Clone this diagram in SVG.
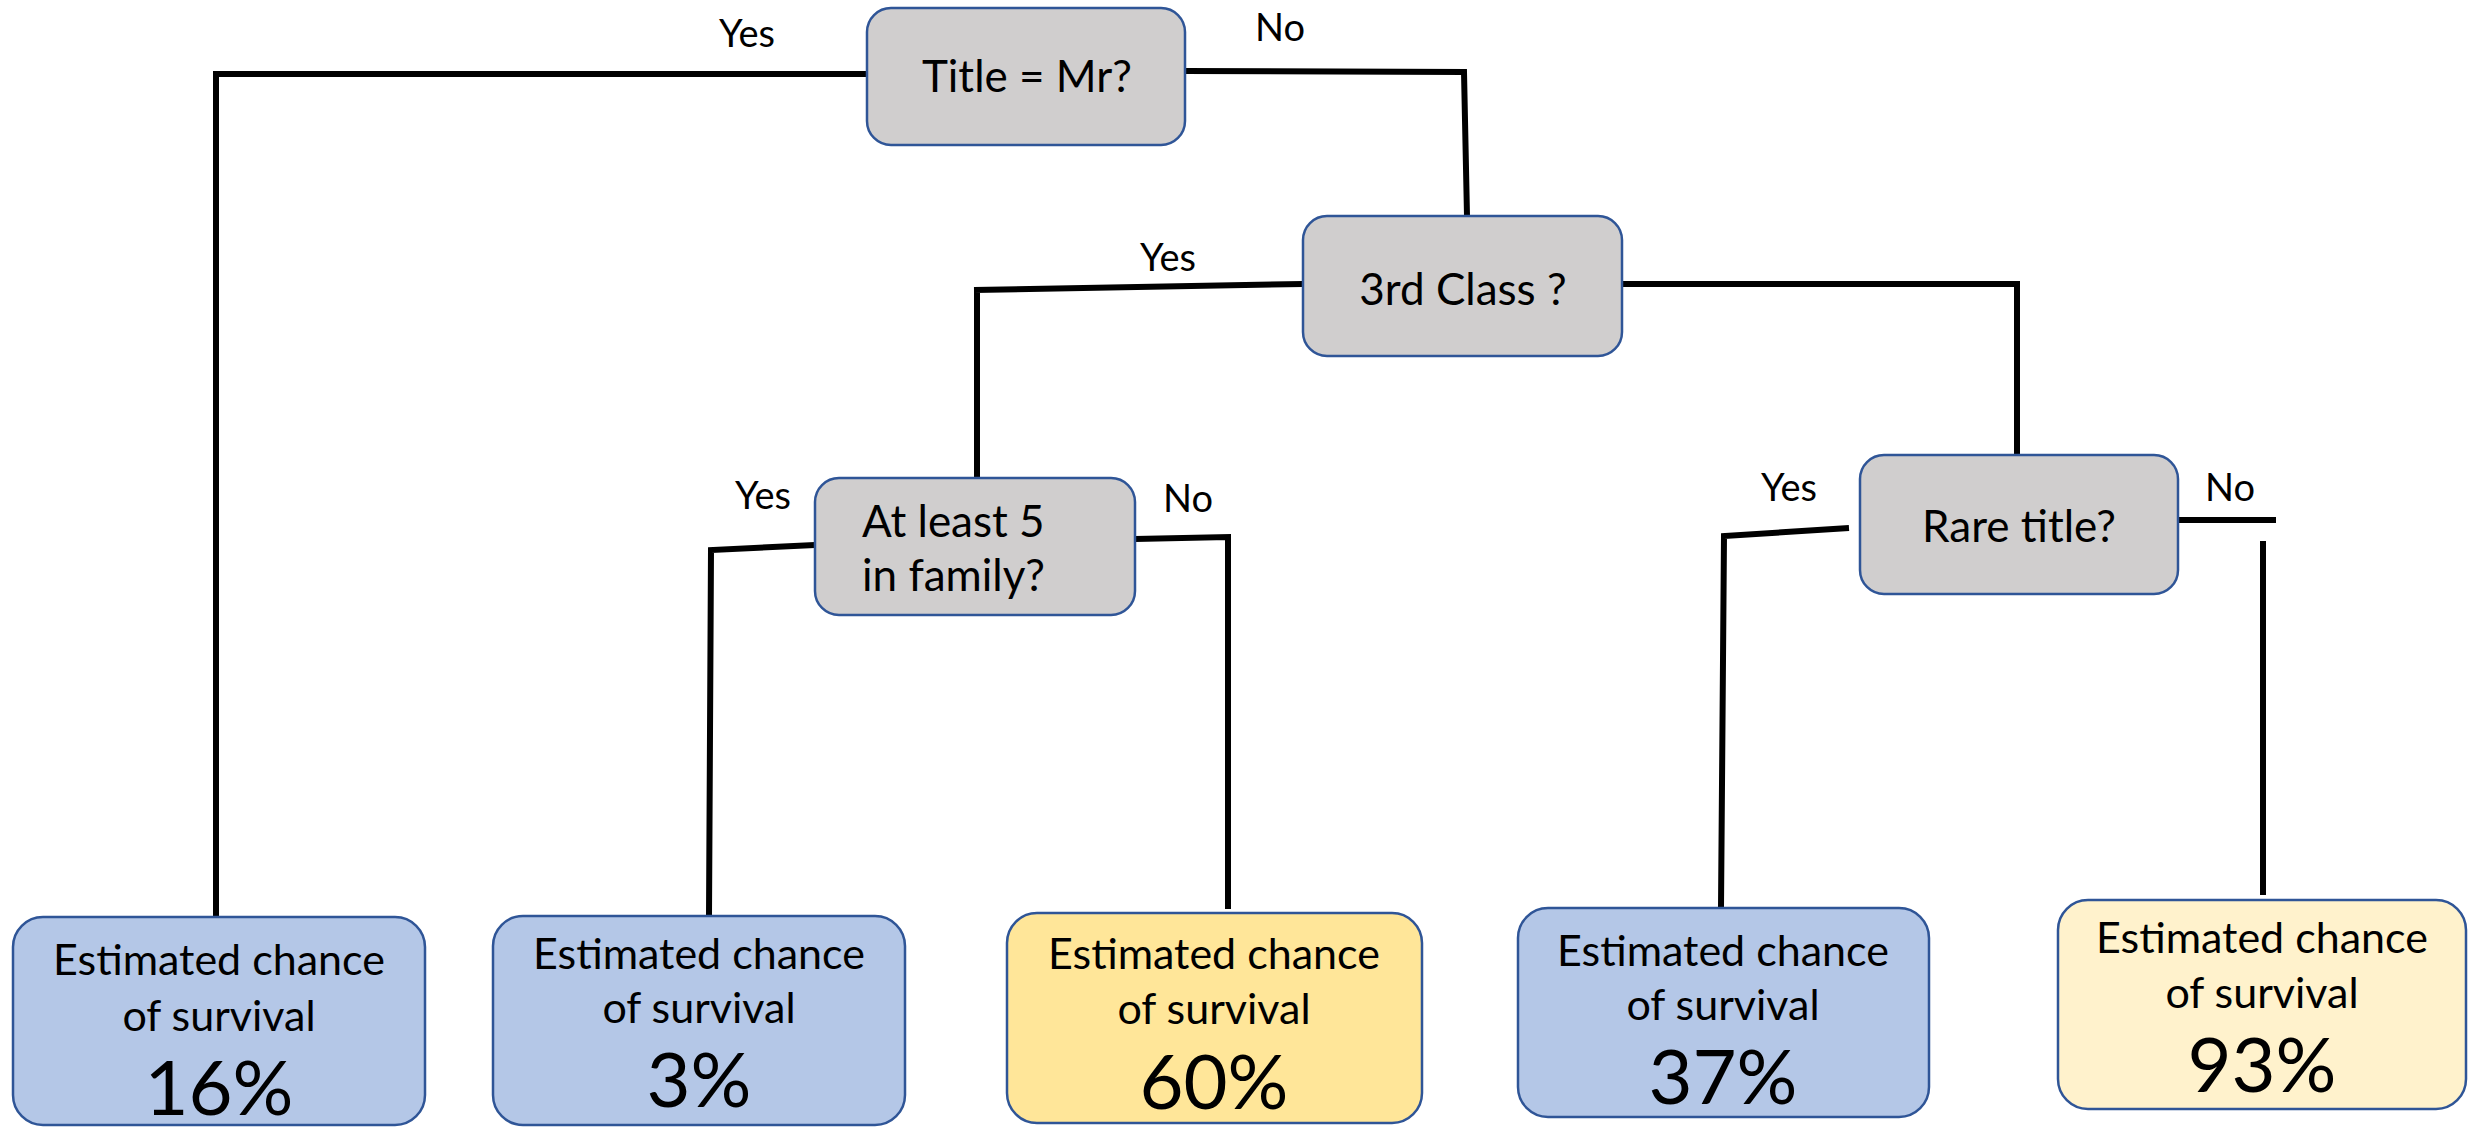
<svg xmlns="http://www.w3.org/2000/svg" width="2471" height="1127" viewBox="0 0 2471 1127">
<style>
.q{fill:#D0CECE;stroke:#2F5597;stroke-width:2.5}
.lb{fill:#B4C7E7;stroke:#2F5597;stroke-width:2.5}
.ly{fill:#FFE699;stroke:#2F5597;stroke-width:2.5}
.lp{fill:#FFF2CC;stroke:#2F5597;stroke-width:2.5}
.c{fill:none;stroke:#000;stroke-width:6;stroke-linejoin:miter}
text{font-family:Lato,"Liberation Sans",sans-serif;fill:#000}
.t{font-size:43px;text-anchor:middle}
.tl{font-size:44px}
.e{font-size:38px;text-anchor:middle}
.p{font-size:76px;text-anchor:middle}
</style>
<rect width="2471" height="1127" fill="#fff"/>
<g id="connectors">
<polyline class="c" points="867,74 216,74 216,917"/>
<polyline class="c" points="1185,71 1464,72 1467,216"/>
<polyline class="c" points="1303,284 974,290 977,290 977,478"/>
<polyline class="c" points="1622,284 2017,284 2017,455"/>
<polyline class="c" points="815,545 711,550 709,916"/>
<polyline class="c" points="1135,539 1228,537 1228,909"/>
<polyline class="c" points="1849,528 1724,536 1721,908"/>
<polyline class="c" points="2178,520 2276,520"/>
<polyline class="c" points="2263,541 2263,895"/>
</g>
<g id="edge-labels">
<text class="e" x="747" y="47">Yes</text>
<text class="e" x="1280" y="41">No</text>
<text class="e" x="1168" y="271">Yes</text>
<text class="e" x="763" y="509">Yes</text>
<text class="e" x="1188" y="512">No</text>
<text class="e" x="1789" y="501">Yes</text>
<text class="e" x="2230" y="501">No</text>
</g>
<g id="n-title">
<rect class="q" x="867" y="8" width="318" height="137" rx="24"/>
<text class="t" x="1027" y="92" style="font-size:44px">Title = Mr?</text>
</g>
<g id="n-class">
<rect class="q" x="1303" y="216" width="319" height="140" rx="24"/>
<text class="t" x="1463" y="305" style="font-size:44px">3rd Class ?</text>
</g>
<g id="n-family">
<rect class="q" x="815" y="478" width="320" height="137" rx="24"/>
<text class="tl" x="862" y="537">At least 5</text>
<text class="tl" x="862" y="591">in family?</text>
</g>
<g id="n-rare">
<rect class="q" x="1860" y="455" width="318" height="139" rx="24"/>
<text class="t" x="2019" y="542" style="font-size:44px">Rare title?</text>
</g>
<g id="leaf-16">
<rect class="lb" x="13" y="917" width="412" height="208" rx="30"/>
<text class="t" x="219" y="975">Estimated chance</text>
<text class="t" x="219" y="1031">of survival</text>
<text class="p" x="219" y="1115">16%</text>
</g>
<g id="leaf-3">
<rect class="lb" x="493" y="916" width="412" height="209" rx="30"/>
<text class="t" x="699" y="969">Estimated chance</text>
<text class="t" x="699" y="1023">of survival</text>
<text class="p" x="699" y="1107">3%</text>
</g>
<g id="leaf-60">
<rect class="ly" x="1007" y="913" width="415" height="210" rx="30"/>
<text class="t" x="1214" y="969">Estimated chance</text>
<text class="t" x="1214" y="1024">of survival</text>
<text class="p" x="1214" y="1109">60%</text>
</g>
<g id="leaf-37">
<rect class="lb" x="1518" y="908" width="411" height="209" rx="30"/>
<text class="t" x="1723" y="966">Estimated chance</text>
<text class="t" x="1723" y="1020">of survival</text>
<text class="p" x="1723" y="1104">37%</text>
</g>
<g id="leaf-93">
<rect class="lp" x="2058" y="900" width="408" height="209" rx="30"/>
<text class="t" x="2262" y="953">Estimated chance</text>
<text class="t" x="2262" y="1008">of survival</text>
<text class="p" x="2262" y="1092">93%</text>
</g>
</svg>
